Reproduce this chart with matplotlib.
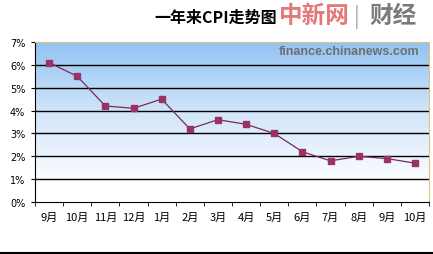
import matplotlib.pyplot as plt
import numpy as np
from matplotlib.colors import LinearSegmentedColormap
from matplotlib.lines import Line2D

plt.rcParams['font.family'] = ['Noto Sans CJK SC', 'DejaVu Sans']

months = ['9月', '10月', '11月', '12月', '1月', '2月', '3月',
          '4月', '5月', '6月', '7月', '8月', '9月', '10月']
cpi = [6.1, 5.5, 4.2, 4.1, 4.5, 3.2, 3.6, 3.4, 3.0, 2.2, 1.8, 2.0, 1.9, 1.7]
yticks = [0, 1, 2, 3, 4, 5, 6, 7]

fig = plt.figure(figsize=(4.33, 2.55), dpi=100)
ax = fig.add_axes([35 / 433, 52 / 255, 394 / 433, 160 / 255])

x = np.arange(len(months))
ax.set_xlim(-0.5, len(months) - 0.5)
ax.set_ylim(0, 7)

# background gradient: blue at top to white at bottom
cmap = LinearSegmentedColormap.from_list(
    'bg', [(0, '#ffffff'), (0.1, '#ffffff'), (0.55, '#d3e6fa'), (1, '#92c3f2')])
grad = np.linspace(0, 1, 256).reshape(-1, 1)
ax.imshow(grad, aspect='auto', cmap=cmap, origin='lower',
          extent=[-0.5, len(months) - 0.5, 0, 7], zorder=0)

for v in yticks[1:-1]:
    ax.axhline(v, color='black', linewidth=1.0, zorder=1)

ax.plot(x, cpi, color='#7a2a5a', linewidth=0.9, marker='s', markersize=5,
        markerfacecolor='#993366', markeredgecolor='#993366', zorder=3)

ax.set_yticks(yticks)
ax.set_yticklabels([f'{v}%' for v in yticks], fontsize=7, family=['DejaVu Sans'])
ax.set_xticks(x)
ax.set_xticklabels(months, fontsize=8)
ax.set_xticks(np.arange(-0.5, len(months)), minor=True)
ax.tick_params(axis='x', which='major', length=0, pad=7)
ax.tick_params(axis='x', which='minor', length=3, direction='out')
ax.tick_params(axis='y', length=3, pad=4)

ax.spines['left'].set_color('black')
ax.spines['bottom'].set_color('black')
ax.spines['top'].set_color('#e0c27a')
ax.spines['right'].set_color('#e0c27a')

ax.text(0.975, 0.945, 'finance.chinanews.com', transform=ax.transAxes,
        ha='right', va='center', fontsize=9, color='#6f6f6f', fontweight='bold',
        family=['Liberation Sans'])

# title and logo
fig.text(277 / 433, 1 - 18 / 255, '一年来CPI走势图', ha='right', va='center',
         fontsize=11.5, fontweight='bold', color='black')
fig.text(314 / 433, 1 - 16 / 255, '中新网', ha='center', va='center',
         fontsize=17, fontweight='bold', color='#e06060', alpha=0.85)
fig.text(357 / 433, 1 - 17 / 255, '|', ha='center', va='center',
         fontsize=15, color='#a8a8a8')
fig.text(393 / 433, 1 - 16 / 255, '财经', ha='center', va='center',
         fontsize=17, fontweight='bold', color='#7a7a7a')

fig.add_artist(Line2D([0, 1], [1 / 255, 1 / 255], color='black', linewidth=1.5))

fig.savefig('out.png', dpi=100)
